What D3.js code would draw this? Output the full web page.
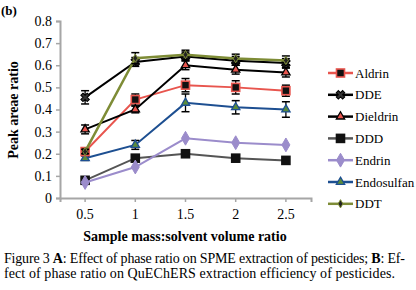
<!DOCTYPE html>
<html>
<head>
<meta charset="utf-8">
<script src="https://cdn.jsdelivr.net/npm/d3@7"></script>
<style>
body { margin: 0; background: #fff; }
svg text { font-family: "Liberation Serif", "Times New Roman", "DejaVu Serif", serif; }
</style>
</head>
<body>
<svg id="chart" width="416" height="290"></svg>
<script>
var ratios = ["0.5", "1", "1.5", "2", "2.5"];
var yTicks = [0, 0.1, 0.2, 0.3, 0.4, 0.5, 0.6, 0.7, 0.8];
var seriesNames = ["Aldrin", "DDE", "Dieldrin", "DDD", "Endrin", "Endosulfan", "DDT"];
var aldrin = [0.21, 0.445, 0.51, 0.50, 0.485];
var dde = [0.455, 0.615, 0.64, 0.62, 0.61];
var dieldrin = [0.31, 0.40, 0.60, 0.58, 0.567];
var ddd = [0.08, 0.18, 0.20, 0.18, 0.17];
var endrin = [0.07, 0.14, 0.27, 0.25, 0.24];
var endosulfan = [0.18, 0.24, 0.43, 0.41, 0.40];
var ddt = [0.21, 0.632, 0.648, 0.63, 0.622];
var aldrinErr = [0.01, 0.025, 0.03, 0.03, 0.025];
var ddeErr = [0.03, 0.02, 0.02, 0.02, 0.02];
var dieldrinErr = [0.02, 0.015, 0.02, 0.02, 0.02];
var dddErr = [0.005, 0.005, 0.005, 0.005, 0.005];
var endrinErr = [0.005, 0.005, 0.005, 0.005, 0.005];
var endosulfanErr = [0.01, 0.02, 0.04, 0.03, 0.035];
var ddtErr = [0.01, 0.025, 0.02, 0.02, 0.02];

var values = [aldrin, dde, dieldrin, ddd, endrin, endosulfan, ddt];
var errors = [aldrinErr, ddeErr, dieldrinErr, dddErr, endrinErr, endosulfanErr, ddtErr];
var colors = ["#e8554e", "#000000", "#000000", "#555555", "#9b8ccb", "#1d4f91", "#7e8c36"];
var markers = ["square", "star", "triangle", "square", "diamond", "triangle", "dot"];
var markerFill = ["#e8554e", "#222", "#e8554e", "#111", "#9b8ccb", "#5b8c3a", "#222"];
var markerStroke = ["#000", "#666", "#000", "#555", "#9b8ccb", "#1d4f91", "#7e8c36"];
var serif = "'Liberation Serif', 'Times New Roman', 'DejaVu Serif', serif";

var svg = d3.select("#chart").attr("font-family", serif);
var x = d3.scaleBand().domain(ratios).range([60, 311]);
var y = d3.scaleLinear().domain([0, 0.8]).range([198, 21]);
var cx = function (d, i) { return x(ratios[i]) + x.bandwidth() / 2; };

// axes
var yAxis = svg.append("g").attr("transform", "translate(60,0)")
    .call(d3.axisLeft(y).tickValues(yTicks).tickSize(4).tickPadding(4)
        .tickFormat(function (d) { return d === 0 ? "0" : d3.format(".1f")(d); }));
var xAxis = svg.append("g").attr("transform", "translate(0,198)")
    .call(d3.axisBottom(x).tickSize(4).tickPadding(7));
[yAxis, xAxis].forEach(function (g) {
    g.attr("font-family", serif).attr("font-size", 14);
    g.select(".domain").attr("stroke", "#a6a6a6").attr("stroke-width", 2);
    g.selectAll(".tick line").attr("stroke", "#a6a6a6").attr("stroke-width", 1.5);
    g.selectAll(".tick text").attr("fill", "#000");
});

svg.append("text").attr("x", 185).attr("y", 241).attr("text-anchor", "middle")
    .attr("font-weight", "bold").attr("font-size", 14).text("Sample mass:solvent volume ratio");
svg.append("text").attr("transform", "translate(18,110) rotate(-90)").attr("text-anchor", "middle")
    .attr("font-weight", "bold").attr("font-size", 14).text("Peak areae ratio");
svg.append("text").attr("x", 1).attr("y", 15)
    .attr("font-weight", "bold").attr("font-size", 13).text("(b)");

function drawMarker(g, type, px, py, i) {
    if (type === "square") {
        g.append("rect").attr("x", px - 4).attr("y", py - 4).attr("width", 8).attr("height", 8)
            .attr("fill", "#111").attr("stroke", markerFill[i]).attr("stroke-width", 1.6);
    } else if (type === "triangle") {
        g.append("path").attr("d", d3.symbol(d3.symbolTriangle, 30)())
            .attr("transform", "translate(" + px + "," + py + ")")
            .attr("fill", markerFill[i]).attr("stroke", markerStroke[i]).attr("stroke-width", 1.3);
    } else if (type === "diamond") {
        g.append("path").attr("d", d3.symbol(d3.symbolDiamond, 55)())
            .attr("transform", "translate(" + px + "," + py + ")")
            .attr("fill", markerFill[i]).attr("stroke", markerStroke[i]);
    } else if (type === "star") {
        g.append("path").attr("d", d3.symbol(d3.symbolCross, 45)())
            .attr("transform", "translate(" + px + "," + py + ") rotate(45)")
            .attr("fill", "#333").attr("stroke", "#000");
    } else {
        g.append("path").attr("d", d3.symbol(d3.symbolDiamond, 20)())
            .attr("transform", "translate(" + px + "," + py + ")")
            .attr("fill", "#222").attr("stroke", "#7e8c36");
    }
}

var line = d3.line().x(cx).y(function (d) { return y(d); });
var order = [3, 4, 5, 0, 2, 1, 6];
order.forEach(function (s) {
    var g = svg.append("g");
    g.append("path").datum(values[s]).attr("d", line).attr("fill", "none")
        .attr("stroke", colors[s]).attr("stroke-width", s === 6 ? 2.5 : 2);
    values[s].forEach(function (v, i) {
        var e = errors[s][i];
        if (e > 0.008) {
            var px = cx(v, i);
            g.append("line").attr("x1", px).attr("x2", px).attr("y1", y(v - e)).attr("y2", y(v + e))
                .attr("stroke", "#000").attr("stroke-width", 1.3);
            [v - e, v + e].forEach(function (w) {
                g.append("line").attr("x1", px - 4).attr("x2", px + 4).attr("y1", y(w)).attr("y2", y(w))
                    .attr("stroke", "#000").attr("stroke-width", 1.5);
            });
        }
        drawMarker(g, markers[s], cx(v, i), y(v), s);
    });
});

// legend
var legend = svg.append("g");
seriesNames.forEach(function (name, i) {
    var ly = 73 + i * 21.8;
    legend.append("line").attr("x1", 328).attr("x2", 353).attr("y1", ly).attr("y2", ly)
        .attr("stroke", colors[i]).attr("stroke-width", 2.5);
    drawMarker(legend, markers[i], 340.5, ly, i);
    legend.append("text").attr("x", 355).attr("y", ly + 4.5).attr("font-size", 13).text(name);
});

// caption, stretched to the widths of the printed lines
var cap1 = svg.append("text").attr("x", 4).attr("y", 263).attr("font-size", 14)
    .attr("textLength", 401).attr("lengthAdjust", "spacing");
cap1.append("tspan").text("Figure 3  ");
cap1.append("tspan").attr("font-weight", "bold").text("A");
cap1.append("tspan").text(": Effect of phase ratio on SPME extraction of pesticides; ");
cap1.append("tspan").attr("font-weight", "bold").text("B");
cap1.append("tspan").text(": Ef-");
svg.append("text").attr("x", 4).attr("y", 278).attr("font-size", 14)
    .attr("textLength", 391).attr("lengthAdjust", "spacing")
    .text("fect of phase ratio on QuEChERS extraction efficiency of pesticides.");
</script>
</body>
</html>
